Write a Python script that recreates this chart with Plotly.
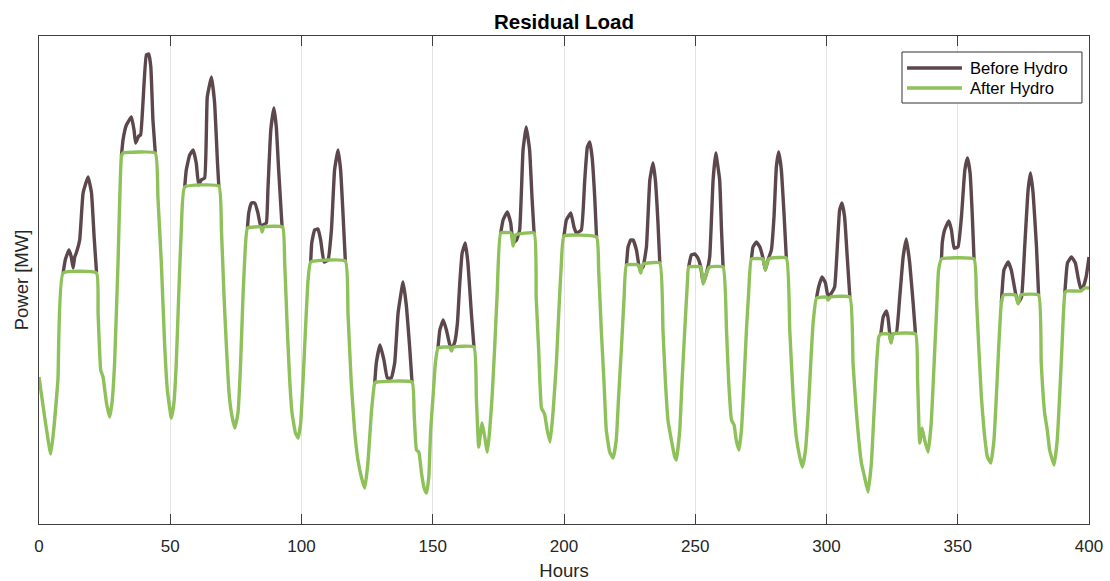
import plotly.graph_objects as go

# After Hydro: hours and power (arbitrary MW units)
after_hours = [
    0, 4.5, 7.2, 9.2, 21.9, 22.5, 23.5, 24.4, 25.7, 26.9, 27.8, 28.8, 30.1, 31.4, 32, 44.3,
    45.3, 46.6, 47.9, 48.9, 50.4, 51.4, 52.3, 53.2, 54.2, 55.5, 68.5,
    69.5, 70.5, 71.4, 72.3, 73.3, 74.6, 75.8, 76.8, 77.7, 78.6, 79.4, 84.5, 85.0, 85.6, 92.8,
    93.6, 94.6, 95.5, 96.4, 97.7, 98.7, 99.7, 100.6, 101.5, 102.5, 103.5, 116.7,
    117.7, 118.9, 120.2, 121.5, 122.8, 124.1, 125.3, 126.6, 127.9, 128.5, 142.1,
    142.9, 143.8, 144.7, 145.7, 146.7, 147.6, 148.5, 149.2, 150.1, 151.0, 152.0, 156.5, 157.1, 157.8, 165.7,
    166.6, 167.5, 168.8, 169.8, 170.8, 171.7, 172.6, 173.6, 174.6, 175.9, 179.8, 180.6, 181.5, 188.6,
    189.4, 190.3, 191.4, 192.6, 193.6, 194.7, 195.8, 197.1, 198.0, 199.0, 200.0, 212.4,
    213.2, 214.2, 215.2, 216.1, 217.4, 218.7, 219.9, 220.8, 221.9, 222.9, 223.8, 228.3, 229.2, 230.1, 236.5,
    237.7, 238.6, 239.6, 240.9, 242.2, 242.8, 244.1, 245.0, 246.0, 247.0, 247.5, 252.1, 253.0, 254.3, 255.5, 260.6,
    261.9, 262.7, 263.8, 264.8, 265.6, 266.6, 267.6, 268.6, 269.5, 270.4, 271.4, 275.8, 276.7, 277.7, 279.0, 284.7,
    286.0, 287.3, 288.5, 289.8, 290.8, 292.0, 293.0, 294.0, 294.9, 296.2, 300.0, 300.6, 301.5, 308.9,
    310.1, 311.4, 312.3, 313.3, 314.5, 315.8, 317.1, 318.1, 319.1, 319.9, 320.7, 323.8, 324.6, 325.3, 333.9,
    334.7, 335.5, 336.4, 337.4, 338.7, 339.9, 341.0, 341.9, 342.7, 343.8, 356.2,
    357.1, 358.0, 359.0, 360.0, 361.3, 362.6, 363.8, 364.7, 365.6, 366.6, 367.5, 372.0, 373.0, 374.0, 380.8,
    381.8, 383.1, 384.1, 385.0, 386.7, 387.9, 388.8, 389.7, 390.8, 391.5, 397.0, 398.3, 400,
]
after_power = [
    147, 70, 144, 251, 251, 211, 154, 147, 121, 107, 121, 161, 261, 368, 371, 371,
    327, 261, 177, 134, 106, 121, 161, 227, 294, 337, 338,
    294, 227, 177, 134, 111, 96, 111, 161, 227, 277, 296, 297, 292, 297, 297,
    261, 194, 144, 111, 91, 86, 101, 144, 194, 244, 262, 263,
    211, 144, 94, 64, 47, 36, 61, 111, 141, 142, 142,
    111, 74, 72, 51, 36, 31, 47, 94, 127, 161, 176, 177, 173, 177, 177,
    127, 77, 101, 87, 72, 94, 127, 177, 234, 291, 291, 278, 289, 291,
    227, 177, 116, 110, 94, 82, 111, 161, 211, 261, 288, 287,
    254, 194, 144, 94, 72, 66, 84, 127, 177, 227, 259, 259, 251, 260, 261,
    194, 144, 104, 84, 67, 64, 94, 144, 194, 241, 257, 257, 240, 251, 257, 257,
    194, 144, 104, 99, 84, 74, 94, 144, 194, 234, 265, 265, 254, 264, 266, 266,
    194, 127, 87, 67, 57, 74, 111, 161, 201, 226, 227, 224, 227, 227,
    161, 111, 84, 61, 47, 32, 61, 111, 161, 187, 190, 190, 181, 190, 190,
    144, 81, 96, 84, 72, 101, 161, 211, 254, 265, 265,
    227, 177, 127, 94, 67, 61, 84, 127, 177, 221, 229, 229, 220, 229, 229,
    161, 111, 94, 74, 59, 84, 127, 177, 231, 233, 233, 236, 236,
]

# Before Hydro: only where it rises above After Hydro (elsewhere identical); None = gap
before_hours = [
    9.2, 10.0, 11.4, 12.3, 13.0, 13.6, 14.2, 15.5, 16.8, 18.7, 20.0, 21.0, 21.9, None,
    31.4, 32.0, 33.3, 35.2, 36.2, 36.8, 38.0, 38.7, 39.6, 40.9, 41.8, 42.6, 43.4, 44.3, None,
    55.5, 56.1, 57.4, 58.7, 59.9, 60.8, 61.8, 63.1, 64.1, 65.7, 66.9, 68.0, 68.5, None,
    79.4, 79.9, 80.9, 82.2, 83.4, 84.5, 85.4, 86.6, 87.2, 88.3, 89.5, 90.4, 91.3, 92.6, None,
    103.5, 103.9, 105.0, 106.3, 107.3, 108.6, 110.1, 111.4, 112.6, 113.9, 114.9, 115.8, 116.7, None,
    127.9, 128.5, 129.9, 131.4, 132.7, 134.2, 135.5, 136.8, 138.7, 140.0, 141.2, 142.1, None,
    152.0, 152.7, 154.0, 155.2, 156.5, 157.1, 158.4, 159.4, 160.3, 161.2, 162.4, 163.4, 164.7, 165.7, None,
    175.9, 176.8, 178.4, 179.7, 180.6, 181.9, 183.1, 184.4, 185.6, 186.9, 187.8, 188.6, None,
    200.0, 200.9, 202.6, 203.8, 204.7, 206.6, 207.9, 208.9, 209.8, 210.7, 211.7, 212.4, None,
    223.8, 224.4, 225.4, 226.3, 227.6, 228.9, 230.1, 231.4, 232.7, 233.9, 234.8, 235.8, 236.5, None,
    247.5, 248.5, 249.8, 251.0, 252.1, 253.0, 254.3, 255.5, 256.8, 257.8, 259.3, 260.0, 260.6, None,
    271.4, 272.0, 273.3, 274.6, 275.8, 276.7, 277.7, 279.0, 280.0, 280.9, 281.8, 282.8, 283.8, 284.7, None,
    296.2, 297.0, 298.3, 299.6, 300.6, 301.9, 303.1, 304.2, 305.0, 305.9, 306.9, 307.9, 308.9, None,
    320.7, 321.6, 322.8, 323.4, 324.5, 325.3, 326.6, 327.9, 329.2, 330.4, 331.7, 333.0, 333.9, None,
    343.8, 344.1, 345.0, 346.6, 347.6, 348.6, 350.1, 351.4, 352.7, 353.7, 354.7, 355.5, 356.2, None,
    366.6, 367.6, 369.2, 370.4, 372.0, 373.0, 374.3, 375.5, 376.8, 377.7, 378.7, 380.0, 380.8, None,
    390.8, 391.8, 393.3, 394.8, 395.8, 396.8, 397.7, 398.9, 400.0,
]
before_power = [
    251, 264, 274, 267, 256, 267, 271, 284, 331, 347, 331, 287, 252, None,
    368, 384, 399, 407, 394, 381, 388, 389, 421, 469, 470, 457, 404, 371, None,
    337, 354, 369, 374, 361, 339, 344, 346, 427, 447, 421, 361, 338, None,
    296, 311, 321, 321, 311, 297, 299, 301, 334, 394, 416, 397, 354, 297, None,
    262, 281, 294, 295, 284, 262, 264, 294, 354, 374, 354, 311, 263, None,
    141, 161, 179, 164, 146, 146, 161, 211, 242, 217, 177, 142, None,
    176, 194, 204, 194, 179, 174, 182, 201, 241, 271, 281, 261, 211, 177, None,
    291, 304, 312, 301, 281, 284, 294, 374, 397, 374, 327, 291, None,
    288, 304, 311, 297, 291, 294, 344, 377, 382, 367, 327, 287, None,
    259, 277, 284, 284, 274, 254, 257, 277, 344, 361, 344, 301, 261, None,
    257, 269, 270, 266, 257, 241, 251, 267, 344, 371, 344, 294, 257, None,
    265, 277, 282, 277, 266, 254, 264, 274, 307, 357, 372, 354, 311, 266, None,
    226, 237, 247, 241, 227, 231, 237, 281, 314, 321, 307, 267, 227, None,
    190, 207, 213, 207, 182, 190, 191, 227, 267, 285, 261, 221, 190, None,
    265, 281, 294, 303, 294, 276, 277, 307, 354, 366, 351, 311, 265, None,
    221, 254, 262, 254, 231, 221, 227, 277, 334, 351, 331, 277, 229, None,
    231, 261, 267, 261, 247, 236, 237, 247, 267,
]

x_ticks = [0, 50, 100, 150, 200, 250, 300, 350, 400]
series_names = ["Before Hydro", "After Hydro"]

BEFORE_COLOR = "#5c474c"
AFTER_COLOR = "#8fc15a"
FONT = "Liberation Sans, Arial, sans-serif"
LINE_W = 3.4

fig = go.Figure()
fig.add_trace(go.Scatter(
    x=before_hours, y=before_power, mode="lines", name=series_names[0],
    line=dict(color=BEFORE_COLOR, width=LINE_W, shape="spline", smoothing=0.35),
    connectgaps=False, showlegend=False,
))
fig.add_trace(go.Scatter(
    x=after_hours, y=after_power, mode="lines", name=series_names[1],
    line=dict(color=AFTER_COLOR, width=LINE_W, shape="spline", smoothing=0.35),
    showlegend=False,
))

# Legend box drawn in paper coordinates (MATLAB-style wide line samples)
legend_box = dict(x0=0.8219, x1=0.9933, y0=0.8627, y1=0.9672)
legend_rows_y = [0.9344, 0.8934]
sample_x0, sample_x1, text_x = 0.8267, 0.879, 0.8848
shapes = [dict(type="rect", xref="paper", yref="paper", layer="above",
               x0=legend_box["x0"], x1=legend_box["x1"],
               y0=legend_box["y0"], y1=legend_box["y1"],
               line=dict(color="#333333", width=1), fillcolor="white")]
annotations = []
for name, color, ry in zip(series_names, [BEFORE_COLOR, AFTER_COLOR], legend_rows_y):
    shapes.append(dict(type="line", xref="paper", yref="paper", layer="above",
                       x0=sample_x0, x1=sample_x1, y0=ry, y1=ry,
                       line=dict(color=color, width=LINE_W)))
    annotations.append(dict(text=name, xref="paper", yref="paper", x=text_x, y=ry,
                            xanchor="left", yanchor="middle", showarrow=False,
                            font=dict(size=16.6, color="#000000", family=FONT)))

axis_color = "#404040"
fig.update_layout(
    width=1110, height=581,
    margin=dict(l=39, r=21, t=36, b=57, autoexpand=False),
    paper_bgcolor="white", plot_bgcolor="white",
    font=dict(family=FONT, color="#262626"),
    title=dict(text="<b>Residual Load</b>", x=0.5081, xanchor="center",
               y=1 - 22 / 581, yanchor="middle",
               font=dict(size=20.5, color="#000000", family=FONT)),
    showlegend=False,
    shapes=shapes,
    annotations=annotations,
)
fig.update_xaxes(
    range=[0, 400], tickmode="array", tickvals=x_ticks,
    ticktext=[str(t) for t in x_ticks],
    showgrid=True, gridcolor="#e3e3e3", gridwidth=1,
    showline=True, linecolor=axis_color, linewidth=1, mirror="ticks",
    ticks="inside", ticklen=10, tickcolor=axis_color, tickwidth=1,
    tickfont=dict(size=17, color="#262626"), ticklabelstandoff=7,
    title=dict(text="Hours", font=dict(size=18.5, color="#262626"), standoff=10),
    zeroline=False, automargin=False,
)
fig.update_yaxes(
    range=[0, 488], showticklabels=False, ticks="", showgrid=False,
    showline=True, linecolor=axis_color, linewidth=1, mirror=True,
    title=dict(text="Power [MW]", font=dict(size=18.5, color="#262626"), standoff=4),
    zeroline=False, automargin=False,
)

fig.write_html("out.html", config={"displayModeBar": False},
               post_script="document.body.style.margin='0';")
